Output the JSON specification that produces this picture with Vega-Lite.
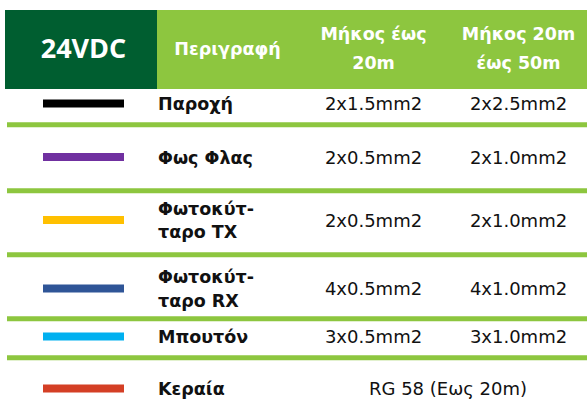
{
  "$schema": "https://vega.github.io/schema/vega-lite/v6.json",
  "width": 587,
  "height": 417,
  "padding": 0,
  "autosize": {"type": "none"},
  "background": "white",
  "config": {"view": {"stroke": null}},
  "datasets": {
    "header": [
      {"col": 0.5, "label": "24VDC", "kind": "corner"},
      {"col": 1.5, "label": "Περιγραφή", "kind": "single"},
      {"col": 2.5, "label": "Μήκος έως\n20m", "kind": "double"},
      {"col": 3.5, "label": "Μήκος 20m\nέως 50m", "kind": "double"}
    ],
    "rows": [
      {"row": 1, "wire": "black", "name": "Παροχή", "lines": 1, "len20": "2x1.5mm2", "len50": "2x2.5mm2", "both": ""},
      {"row": 2, "wire": "purple", "name": "Φως Φλας", "lines": 1, "len20": "2x0.5mm2", "len50": "2x1.0mm2", "both": ""},
      {"row": 3, "wire": "yellow", "name": "Φωτοκύτ-\nταρο TX", "lines": 2, "len20": "2x0.5mm2", "len50": "2x1.0mm2", "both": ""},
      {"row": 4, "wire": "blue", "name": "Φωτοκύτ-\nταρο RX", "lines": 2, "len20": "4x0.5mm2", "len50": "4x1.0mm2", "both": ""},
      {"row": 5, "wire": "cyan", "name": "Μπουτόν", "lines": 1, "len20": "3x0.5mm2", "len50": "3x1.0mm2", "both": ""},
      {"row": 6, "wire": "red", "name": "Κεραία", "lines": 1, "len20": "", "len50": "", "both": "RG 58 (Εως 20m)"}
    ],
    "borders": [{"edge": 1.5}, {"edge": 2.5}, {"edge": 3.5}, {"edge": 4.5}, {"edge": 5.5}]
  },
  "layer": [
    {
      "data": {"values": [{"cell": "corner"}]},
      "mark": {"type": "rect", "color": "#005E30"},
      "encoding": {
        "x": {"datum": 0, "type": "quantitative", "axis": null,
              "scale": {"type": "linear", "domain": [0, 0.5, 1, 1.5, 2, 2.5, 3, 3.5, 4], "range": [5, 83.5, 157, 227.5, 298, 373.5, 448, 518.5, 587], "nice": false, "zero": false}},
        "x2": {"datum": 1},
        "y": {"datum": -0.5, "type": "quantitative", "axis": null,
              "scale": {"type": "linear", "domain": [-0.5, 0, 0.5, 1, 1.5, 2, 2.5, 3, 3.5, 4, 4.5, 5, 5.5, 6, 6.5], "range": [10, 49.5, 89, 105, 124.8, 158.5, 190.7, 221.5, 254.8, 290, 318.8, 338, 357.8, 390, 417], "nice": false, "zero": false}},
        "y2": {"datum": 0.5}
      }
    },
    {
      "data": {"values": [{"cell": "head"}]},
      "mark": {"type": "rect", "color": "#8DC63F"},
      "encoding": {
        "x": {"datum": 1, "type": "quantitative"},
        "x2": {"datum": 4},
        "y": {"datum": -0.5, "type": "quantitative"},
        "y2": {"datum": 0.5}
      }
    },
    {
      "data": {"name": "borders"},
      "mark": {"type": "rule", "color": "#8DC63F", "strokeWidth": 5, "xOffset": 2},
      "encoding": {
        "x": {"datum": 0, "type": "quantitative"},
        "x2": {"datum": 4},
        "y": {"field": "edge", "type": "quantitative"}
      }
    },
    {
      "data": {"name": "rows"},
      "mark": {"type": "tick", "orient": "horizontal", "size": 81, "thickness": 8, "yOffset": -1.5, "opacity": 1},
      "encoding": {
        "x": {"datum": 0.5, "type": "quantitative"},
        "y": {"field": "row", "type": "quantitative"},
        "color": {"field": "wire", "type": "nominal", "legend": null,
                  "scale": {"domain": ["black", "purple", "yellow", "blue", "cyan", "red"], "range": ["#000000", "#7030A0", "#FFC000", "#2F5597", "#00B0F0", "#D43F25"]}}
      }
    },
    {
      "data": {"name": "rows"},
      "transform": [{"filter": "datum.lines === 1"}],
      "mark": {"type": "text", "align": "left", "baseline": "middle", "dx": 1, "font": "DejaVu Sans", "fontWeight": "bold", "fontSize": 17.5, "color": "#111111"},
      "encoding": {
        "x": {"datum": 1, "type": "quantitative"},
        "y": {"field": "row", "type": "quantitative"},
        "text": {"field": "name"}
      }
    },
    {
      "data": {"name": "rows"},
      "transform": [{"filter": "datum.lines === 2"}],
      "mark": {"type": "text", "align": "left", "baseline": "middle", "dx": 1, "dy": -11.85, "font": "DejaVu Sans", "fontWeight": "bold", "fontSize": 17.5, "lineBreak": "\n", "lineHeight": 23.7, "color": "#111111"},
      "encoding": {
        "x": {"datum": 1, "type": "quantitative"},
        "y": {"field": "row", "type": "quantitative"},
        "text": {"field": "name"}
      }
    },
    {
      "data": {"name": "rows"},
      "mark": {"type": "text", "align": "center", "baseline": "middle", "font": "DejaVu Sans", "fontSize": 18, "color": "#111111"},
      "encoding": {
        "x": {"datum": 2.5, "type": "quantitative"},
        "y": {"field": "row", "type": "quantitative"},
        "text": {"field": "len20"}
      }
    },
    {
      "data": {"name": "rows"},
      "mark": {"type": "text", "align": "center", "baseline": "middle", "font": "DejaVu Sans", "fontSize": 18, "color": "#111111"},
      "encoding": {
        "x": {"datum": 3.5, "type": "quantitative"},
        "y": {"field": "row", "type": "quantitative"},
        "text": {"field": "len50"}
      }
    },
    {
      "data": {"name": "rows"},
      "mark": {"type": "text", "align": "center", "baseline": "middle", "font": "DejaVu Sans", "fontSize": 18, "color": "#111111"},
      "encoding": {
        "x": {"datum": 3, "type": "quantitative"},
        "y": {"field": "row", "type": "quantitative"},
        "text": {"field": "both"}
      }
    },
    {
      "data": {"name": "header"},
      "transform": [{"filter": "datum.kind === 'corner'"}],
      "mark": {"type": "text", "align": "center", "baseline": "middle", "font": "Open Sans", "fontWeight": "bold", "fontSize": 27, "color": "white"},
      "encoding": {
        "x": {"field": "col", "type": "quantitative"},
        "y": {"datum": 0, "type": "quantitative"},
        "text": {"field": "label"}
      }
    },
    {
      "data": {"name": "header"},
      "transform": [{"filter": "datum.kind === 'single'"}],
      "mark": {"type": "text", "align": "center", "baseline": "middle", "font": "DejaVu Sans", "fontWeight": "bold", "fontSize": 17.5, "color": "white"},
      "encoding": {
        "x": {"field": "col", "type": "quantitative"},
        "y": {"datum": 0, "type": "quantitative"},
        "text": {"field": "label"}
      }
    },
    {
      "data": {"name": "header"},
      "transform": [{"filter": "datum.kind === 'double'"}],
      "mark": {"type": "text", "align": "center", "baseline": "middle", "dy": -14.15, "font": "DejaVu Sans", "fontWeight": "bold", "fontSize": 17.5, "lineBreak": "\n", "lineHeight": 28.3, "color": "white"},
      "encoding": {
        "x": {"field": "col", "type": "quantitative"},
        "y": {"datum": 0, "type": "quantitative"},
        "text": {"field": "label"}
      }
    }
  ]
}
